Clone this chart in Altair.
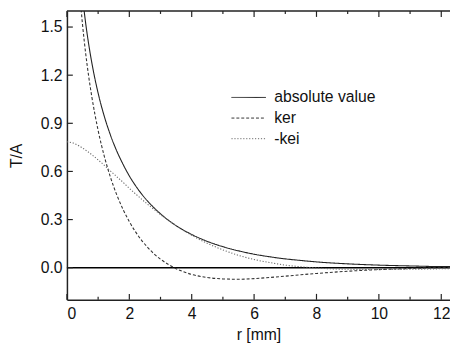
import altair as alt
import pandas as pd

# ---- data ----
r_main = [0.4, 0.5, 0.6, 0.7, 0.8, 1.0, 1.2, 1.4, 1.6, 1.8, 2.0, 2.2, 2.4, 2.6, 2.8,
          3.0, 3.5, 4.0, 4.5, 5.0, 5.5, 6.0, 6.5, 7.0, 7.5, 8.0, 9.0, 10.0, 11.0, 12.0, 12.4]
abs_vals = [1.89, 1.69, 1.525, 1.39, 1.275, 1.088, 0.942, 0.824, 0.726, 0.644, 0.572, 0.511,
            0.458, 0.412, 0.372, 0.336, 0.262, 0.207, 0.164, 0.131, 0.105, 0.084, 0.068,
            0.055, 0.045, 0.036, 0.024, 0.016, 0.011, 0.007, 0.007]
ker_vals = [1.733, 1.515, 1.337, 1.189, 1.063, 0.856, 0.693, 0.561, 0.453, 0.363, 0.287, 0.223,
            0.169, 0.124, 0.085, 0.053, -0.006, -0.042, -0.061, -0.070, -0.072, -0.068, -0.061,
            -0.053, -0.044, -0.036, -0.022, -0.012, -0.005, 0.0, 0.001]
r_kei = [0.0, 0.2] + r_main
kei_vals = [0.785, 0.777, 0.758, 0.746, 0.733, 0.719, 0.704, 0.672, 0.638, 0.602, 0.567, 0.532,
            0.495, 0.460, 0.426, 0.393, 0.362, 0.331, 0.262, 0.202, 0.152, 0.111, 0.077, 0.051,
            0.032, 0.016, 0.006, -0.002, -0.010, -0.011, -0.010, -0.007, -0.007]

series_names = ["absolute value", "ker", "-kei"]
x_major = [0, 2, 4, 6, 8, 10, 12]
x_minor = [1, 3, 5, 7, 9, 11]
y_ticks = [0.0, 0.3, 0.6, 0.9, 1.2, 1.5]

# ---- layout / style ----
W, H = 390, 294
X_DOMAIN = [0, 12.28]
Y_DOMAIN = [-0.2, 1.6]
FONT = "Liberation Sans"
FS = 16

rows = []
for r, v in zip(r_main, abs_vals):
    rows.append({"r": r, "v": v, "s": "absolute value"})
for r, v in zip(r_main, ker_vals):
    rows.append({"r": r, "v": v, "s": "ker"})
for r, v in zip(r_kei, kei_vals):
    rows.append({"r": r, "v": v, "s": "-kei"})
df = pd.DataFrame(rows)

x_enc = alt.X("r:Q", scale=alt.Scale(domain=X_DOMAIN, nice=False, zero=False),
              axis=alt.Axis(values=x_major, title="r [mm]", ticks=False, labelPadding=6,
                            titlePadding=5, grid=False))
y_enc = alt.Y("v:Q", scale=alt.Scale(domain=Y_DOMAIN, nice=False, zero=False),
              axis=alt.Axis(values=y_ticks, format=".1f", title="T/A", ticks=False,
                            labelPadding=5, titlePadding=16, grid=False))

legend = alt.Legend(title=None, orient="none", legendX=177, legendY=80,
                    symbolType="M-3.5,0L3.5,0", symbolSize=100, symbolStrokeWidth=1,
                    labelFont=FONT, labelFontSize=FS, labelColor="#111", labelOffset=18,
                    rowPadding=5)

lines = alt.Chart(df).mark_line(clip=True, strokeWidth=1.1, interpolate="monotone").encode(
    x=x_enc,
    y=y_enc,
    color=alt.Color("s:N", scale=alt.Scale(domain=series_names,
                                           range=["#222222", "#333333", "#6a6a6a"]),
                    legend=legend),
    strokeDash=alt.StrokeDash("s:N", scale=alt.Scale(domain=series_names,
                                                     range=[[1, 0], [3, 2], [1.2, 1.8]]),
                              legend=legend),
    order=alt.Order("r:Q"),
)

zero_df = pd.DataFrame({"v": [0.0]})
zero_line = alt.Chart(zero_df).mark_rule(color="#000", strokeWidth=1.5).encode(y=y_enc)

xmaj_df = pd.DataFrame({"r": x_major})
xmin_df = pd.DataFrame({"r": x_minor})
ytk_df = pd.DataFrame({"v": y_ticks})

bot_major = alt.Chart(xmaj_df).mark_rule(color="#222", strokeWidth=1.2).encode(
    x=x_enc, y=alt.value(H), y2=alt.value(H - 6))
bot_minor = alt.Chart(xmin_df).mark_rule(color="#222", strokeWidth=1.2).encode(
    x=x_enc, y=alt.value(H), y2=alt.value(H - 3))
top_major = alt.Chart(xmaj_df).mark_rule(color="#222", strokeWidth=1.2).encode(
    x=x_enc, y=alt.value(0), y2=alt.value(6))
top_minor = alt.Chart(xmin_df).mark_rule(color="#222", strokeWidth=1.2).encode(
    x=x_enc, y=alt.value(0), y2=alt.value(3))
left_ticks = alt.Chart(ytk_df).mark_rule(color="#222", strokeWidth=1.2).encode(
    y=y_enc, x=alt.value(0), x2=alt.value(6))
top_border = alt.Chart(zero_df).mark_rule(color="#222", strokeWidth=1.5).encode(
    x=alt.value(0), x2=alt.value(W), y=alt.value(0))

chart = alt.layer(
    zero_line, lines, bot_major, bot_minor, top_major, top_minor, left_ticks, top_border
).properties(
    width=W, height=H,
    autosize=alt.AutoSizeParams(type="none"),
    padding={"left": 60, "top": 0, "right": 0, "bottom": 44},
    background="white",
).configure_view(
    stroke=None
).configure_axis(
    labelFont=FONT, labelFontSize=FS, labelColor="#111",
    titleFont=FONT, titleFontSize=FS, titleColor="#111", titleFontWeight="normal",
    domainColor="#222", domainWidth=1.5,
)

chart.save("out.html", embed_options={"renderer": "svg", "actions": False})
